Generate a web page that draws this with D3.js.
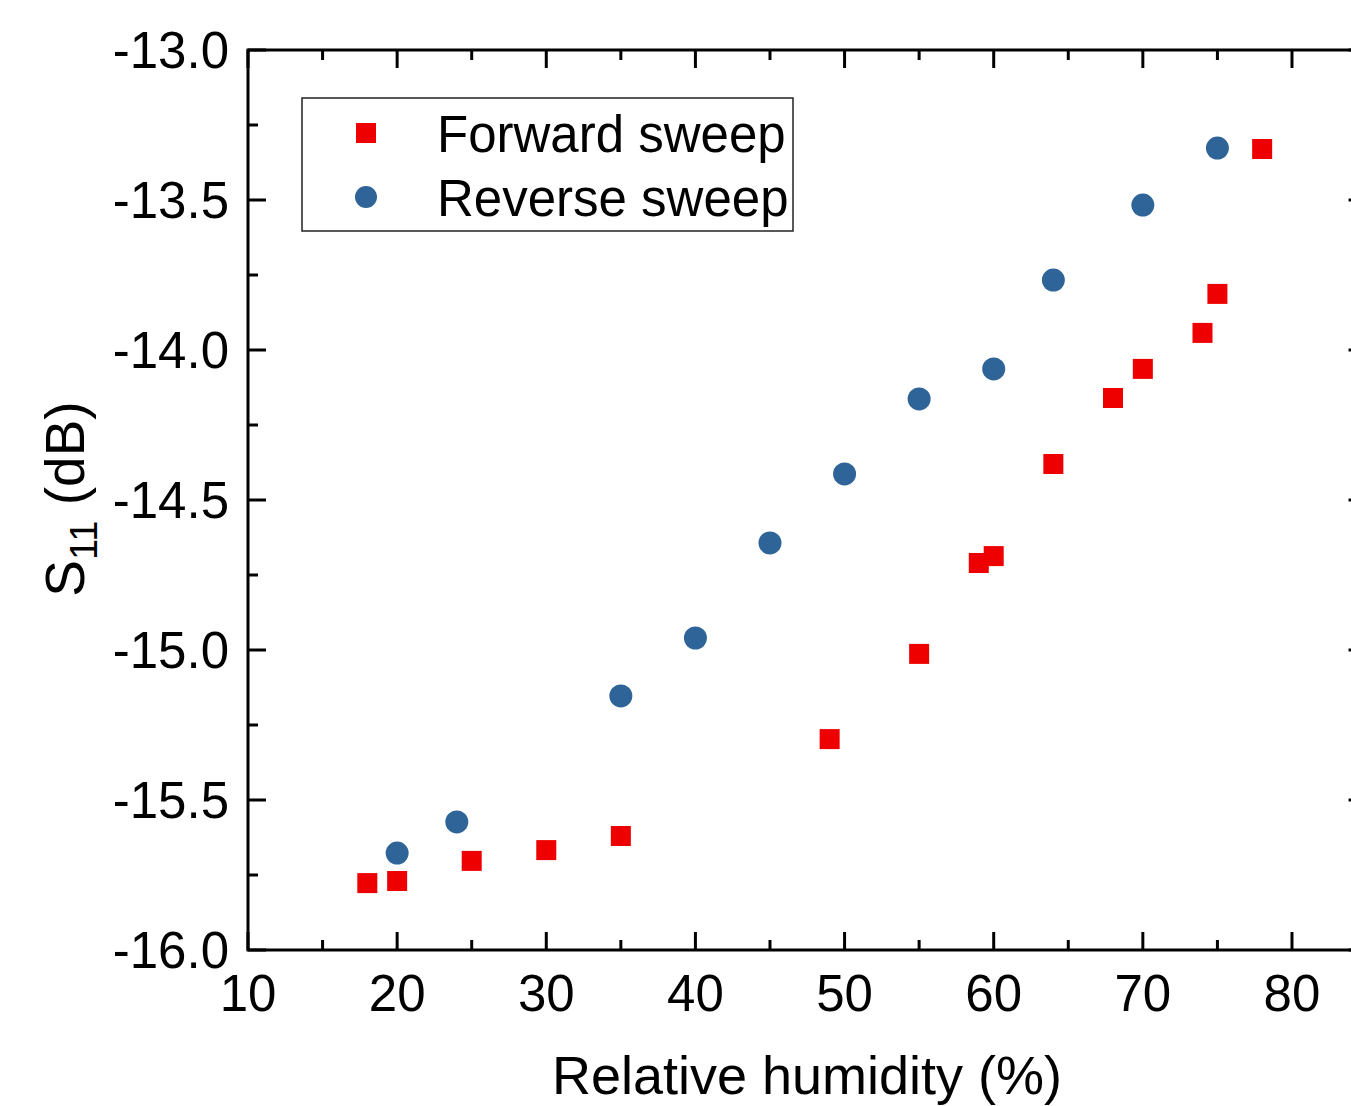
<!DOCTYPE html>
<html><head><meta charset="utf-8">
<script src="https://cdn.jsdelivr.net/npm/d3@7"></script>
<style>html,body{margin:0;padding:0;background:#fff;overflow:hidden}svg{display:block}</style>
</head><body>
<script>
const forwardX = [18, 20, 25, 30, 35, 49, 55, 59, 60, 64, 68, 70, 74, 75, 78];
const forwardY = [-15.777, -15.77, -15.703, -15.667, -15.62, -15.297, -15.013, -14.71, -14.687, -14.38, -14.16, -14.063, -13.943, -13.813, -13.33];
const reverseX = [20, 24, 35, 40, 45, 50, 55, 60, 64, 70, 75];
const reverseY = [-15.677, -15.573, -15.153, -14.96, -14.643, -14.413, -14.163, -14.063, -13.767, -13.517, -13.327];
const xTicks = [10, 20, 30, 40, 50, 60, 70, 80];
const yTicks = [-16.0, -15.5, -15.0, -14.5, -14.0, -13.5, -13.0];
const seriesNames = ["Forward sweep", "Reverse sweep"];

const W = 1351, H = 1106;
const svg = d3.select("body").append("svg").attr("width", W).attr("height", H);
const font = "'Liberation Sans', Arial, sans-serif";
const red = "#ee0000", blue = "#2f6499";

const x = d3.scaleLinear().domain([10, 85]).range([248, 248 + 75 * 14.914]);
const y = d3.scaleLinear().domain([-16, -13]).range([950, 50]);
const [x0, x1] = x.range();
const [y0, y1] = [y(-16), y(-13)];

const axes = svg.append("g").attr("stroke", "#000").attr("stroke-width", 3).attr("fill", "none");
axes.append("rect").attr("x", x0).attr("y", y1).attr("width", x1 - x0).attr("height", y0 - y1);

const xMinor = d3.range(15, 85, 10);
const yMinor = d3.range(-15.75, -13, 0.5);
const MJ = 18, MN = 10;
function tickLines(vals, len, scale, horizontal) {
  vals.forEach(v => {
    if (horizontal) {
      const px = scale(v);
      axes.append("line").attr("x1", px).attr("x2", px).attr("y1", y0).attr("y2", y0 - len);
      axes.append("line").attr("x1", px).attr("x2", px).attr("y1", y1).attr("y2", y1 + len);
    } else {
      const py = scale(v);
      axes.append("line").attr("y1", py).attr("y2", py).attr("x1", x0).attr("x2", x0 + len);
      axes.append("line").attr("y1", py).attr("y2", py).attr("x1", x1).attr("x2", x1 - len);
    }
  });
}
tickLines(xTicks, MJ, x, true);
tickLines(xMinor, MN, x, true);
tickLines(yTicks, MJ, y, false);
tickLines(yMinor, MN, y, false);

svg.append("g").selectAll("text").data(xTicks).join("text")
  .attr("x", d => x(d)).attr("y", 1011).attr("text-anchor", "middle")
  .attr("font-family", font).attr("font-size", 51).text(d => d);
svg.append("g").selectAll("text").data(yTicks).join("text")
  .attr("x", 229).attr("y", d => y(d) + 18).attr("text-anchor", "end")
  .attr("font-family", font).attr("font-size", 51).text(d => d.toFixed(1));

svg.append("text").attr("x", 807).attr("y", 1094).attr("text-anchor", "middle")
  .attr("font-family", font).attr("font-size", 54).text("Relative humidity (%)");
const yl = svg.append("text").attr("transform", "translate(84,499) rotate(-90)")
  .attr("text-anchor", "middle").attr("font-family", font).attr("font-size", 55);
yl.append("tspan").text("S");
yl.append("tspan").attr("font-size", 38).attr("dy", 13).text("11");
yl.append("tspan").attr("dy", -13).text(" (dB)");

const fwd = forwardX.map((v, i) => ({x: v, y: forwardY[i]}));
const rev = reverseX.map((v, i) => ({x: v, y: reverseY[i]}));
const S = 20;
svg.append("g").selectAll("rect").data(fwd).join("rect")
  .attr("x", d => x(d.x) - S / 2).attr("y", d => y(d.y) - S / 2)
  .attr("width", S).attr("height", S).attr("fill", red);
svg.append("g").selectAll("circle").data(rev).join("circle")
  .attr("cx", d => x(d.x)).attr("cy", d => y(d.y)).attr("r", 11.5).attr("fill", blue);

const lg = svg.append("g");
lg.append("rect").attr("x", 302).attr("y", 98).attr("width", 491).attr("height", 133)
  .attr("fill", "#fff").attr("stroke", "#222").attr("stroke-width", 1.5);
lg.append("rect").attr("x", 366 - 10).attr("y", 133 - 10).attr("width", 20).attr("height", 20).attr("fill", red);
lg.append("circle").attr("cx", 366).attr("cy", 197).attr("r", 11).attr("fill", blue);
lg.selectAll("text").data(seriesNames).join("text")
  .attr("x", 437).attr("y", (d, i) => 152 + i * 64)
  .attr("font-family", font).attr("font-size", 51).text(d => d);
</script>
</body></html>
